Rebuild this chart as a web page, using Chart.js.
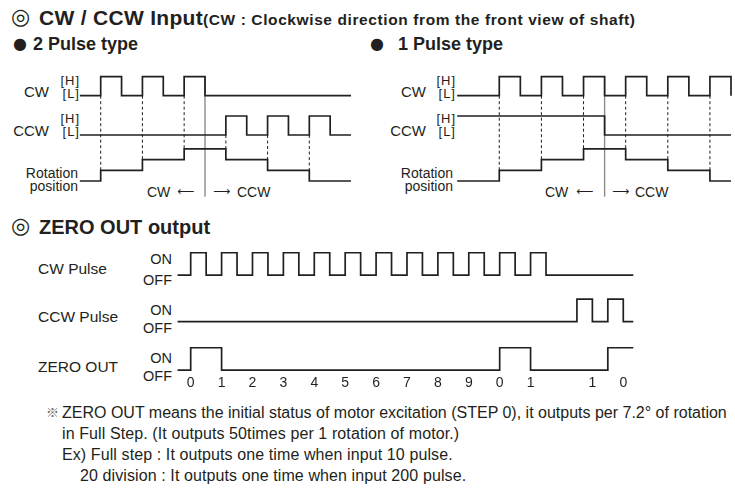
<!DOCTYPE html>
<html>
<head>
<meta charset="utf-8">
<script src="https://cdn.jsdelivr.net/npm/chart.js@4.4.0/dist/chart.umd.min.js"></script>
<style>
  html, body { margin: 0; padding: 0; background: #fff; }
  #page { position: relative; width: 735px; height: 496px; overflow: hidden;
          font-family: "Liberation Sans", Arial, sans-serif; color: #231f20; }
  .t { position: absolute; white-space: nowrap; line-height: 1; }
  .r { text-align: right; }
  .b { font-weight: bold; }
  .sym { font-family: "DejaVu Sans", sans-serif; }
  canvas { position: absolute; }
</style>
</head>
<body>
<div id="page">
  <!-- headings -->
  <div class="t sym" style="left:11px;top:6px;font-size:22px;">◎</div>
  <div class="t b" style="left:39px;top:7px;font-size:21px;letter-spacing:0.3px;">CW / CCW Input<span style="font-size:15.5px;letter-spacing:0.6px;">(CW : Clockwise direction from the front view of shaft)</span></div>
  <div class="t sym" style="left:13px;top:36px;font-size:16px;">●</div>
  <div class="t b" style="left:33px;top:35px;font-size:18px;">2 Pulse type</div>
  <div class="t sym" style="left:370px;top:36px;font-size:16px;">●</div>
  <div class="t b" style="left:398px;top:35px;font-size:18px;">1 Pulse type</div>

  <!-- 2 pulse labels -->
  <div class="t r" style="right:686px;top:84px;font-size:15px;">CW</div>
  <div class="t r" style="right:655px;top:74px;font-size:13px;letter-spacing:1px;">[H]</div>
  <div class="t r" style="right:655px;top:87px;font-size:13px;letter-spacing:1px;">[L]</div>
  <div class="t r" style="right:686px;top:123px;font-size:15px;">CCW</div>
  <div class="t r" style="right:655px;top:112px;font-size:13px;letter-spacing:1px;">[H]</div>
  <div class="t r" style="right:655px;top:125px;font-size:13px;letter-spacing:1px;">[L]</div>
  <div class="t r" style="right:657px;top:166px;font-size:14px;">Rotation</div>
  <div class="t r" style="right:657px;top:179px;font-size:14px;">position</div>
  <div class="t" style="left:147px;top:185px;font-size:14px;">CW</div>
  <div class="t sym" style="left:177px;top:185px;font-size:12px;">⟵</div>
  <div class="t sym" style="left:213px;top:185px;font-size:12px;">⟶</div>
  <div class="t" style="left:237px;top:185px;font-size:14px;">CCW</div>

  <!-- 1 pulse labels -->
  <div class="t r" style="right:309px;top:84px;font-size:15px;">CW</div>
  <div class="t r" style="right:279px;top:74px;font-size:13px;letter-spacing:1px;">[H]</div>
  <div class="t r" style="right:279px;top:87px;font-size:13px;letter-spacing:1px;">[L]</div>
  <div class="t r" style="right:309px;top:123px;font-size:15px;">CCW</div>
  <div class="t r" style="right:279px;top:112px;font-size:13px;letter-spacing:1px;">[H]</div>
  <div class="t r" style="right:279px;top:125px;font-size:13px;letter-spacing:1px;">[L]</div>
  <div class="t r" style="right:282px;top:166px;font-size:14px;">Rotation</div>
  <div class="t r" style="right:282px;top:179px;font-size:14px;">position</div>
  <div class="t" style="left:545px;top:185px;font-size:14px;">CW</div>
  <div class="t sym" style="left:576px;top:185px;font-size:12px;">⟵</div>
  <div class="t sym" style="left:612px;top:185px;font-size:12px;">⟶</div>
  <div class="t" style="left:635px;top:185px;font-size:14px;">CCW</div>

  <!-- ZERO OUT -->
  <div class="t sym" style="left:11px;top:215px;font-size:22px;">◎</div>
  <div class="t b" style="left:39px;top:217px;font-size:20px;">ZERO OUT output</div>
  <div class="t" style="left:38px;top:261px;font-size:15.5px;">CW Pulse</div>
  <div class="t" style="left:38px;top:309px;font-size:15.5px;">CCW Pulse</div>
  <div class="t" style="left:38px;top:359px;font-size:15.5px;">ZERO OUT</div>
  <div class="t r" style="right:563px;top:252px;font-size:14.5px;">ON</div>
  <div class="t r" style="right:563px;top:273px;font-size:14.5px;">OFF</div>
  <div class="t r" style="right:563px;top:303px;font-size:14.5px;">ON</div>
  <div class="t r" style="right:563px;top:321px;font-size:14.5px;">OFF</div>
  <div class="t r" style="right:563px;top:351px;font-size:14.5px;">ON</div>
  <div class="t r" style="right:563px;top:369px;font-size:14.5px;">OFF</div>

  <!-- notes -->
  <div class="t" style="left:46px;top:405px;font-size:13px;font-family:'Noto Sans CJK JP',sans-serif;color:#666;">※</div>
  <div class="t" style="left:62px;top:405px;font-size:16px;">ZERO OUT means the initial status of motor excitation (STEP 0), it outputs per 7.2° of rotation</div>
  <div class="t" style="left:62px;top:426px;font-size:16px;letter-spacing:0.1px;">in Full Step. (It outputs 50times per 1 rotation of motor.)</div>
  <div class="t" style="left:62px;top:447px;font-size:16px;letter-spacing:0.1px;">Ex) Full step : It outputs one time when input 10 pulse.</div>
  <div class="t" style="left:80px;top:468px;font-size:16px;letter-spacing:0.1px;">20 division : It outputs one time when input 200 pulse.</div>

  <canvas id="twoPulse" width="300" height="145" style="left:60px;top:60px;"></canvas>
  <canvas id="onePulse" width="295" height="145" style="left:440px;top:60px;"></canvas>
  <canvas id="zeroOut" width="500" height="157" style="left:150px;top:240px;"></canvas>
</div>

<script>
// levels per half-pulse slot; the last entry is the level at the end of the trace

// 2 pulse type, slots start at x = -1
const twoPulseStart = -1;
const twoPulseCW  = [0, 1, 0, 1, 0, 1, 0, 0, 0, 0, 0, 0, 0, 0];
const twoPulseCCW = [0, 0, 0, 0, 0, 0, 0, 1, 0, 1, 0, 1, 0, 0];
const twoPulseRot = [0, 1, 1, 2, 2, 3, 3, 2, 2, 1, 1, 0, 0, 0];

// 1 pulse type, slots start at x = -2 (CCW line is the direction signal)
const onePulseStart = -2;
const onePulseCW  = [0, 0, 1, 0, 1, 0, 1, 0, 1, 0, 1, 0, 1, 0];
const onePulseCCW = [1, 1, 1, 1, 1, 1, 1, 0, 0, 0, 0, 0, 0, 0];
const onePulseRot = [0, 0, 1, 1, 2, 2, 3, 3, 2, 2, 1, 1, 0, 0];

// where the direction changes (CW <- | -> CCW)
const directionChange = 5;

// ZERO OUT output, slots start at x = -1
const zeroStart = -1;
const zeroCW  = [0, 1,0,1,0,1,0,1,0,1,0,1,0,1,0,1,0,1,0,1,0,1,0,1,0, 0,0,0,0,0];
const zeroCCW = [0, 0,0,0,0,0,0,0,0,0,0,0,0,0,0,0,0,0,0,0,0,0,0,0,0, 0,1,0,1,0];
const zeroOut = [0, 1,1,0,0,0,0,0,0,0,0,0,0,0,0,0,0,0,0,0,0,1,1,0,0, 0,0,0,1,1];

// step counter under the ZERO OUT trace
const stepTicks  = [0, 2, 4, 6, 8, 10, 12, 14, 16, 18, 20, 22, 26, 28];
const stepLabels = ["0", "1", "2", "3", "4", "5", "6", "7", "8", "9", "0", "1", "1", "0"];

const ink = "#231f20";
const fontFamily = "'Liberation Sans', Arial, sans-serif";

// row placement (y units: one pulse height = 1)
const rowLayout = { cw: 5.753, ccw: 3.684, rot: 1.263, rotStep: 0.563, dividerLow: 0.437 };
const zeroLayout = { cw: 4.231, ccw: 2.167, zero: 0, lead: -0.85, end: 28.65 };

function stepData(levels, start, base, amp, lead, end) {
  const pts = levels.map((v, i) => ({ x: start + i, y: base + v * amp }));
  if (lead !== undefined) pts[0].x = lead;
  if (end !== undefined) pts.push({ x: end, y: pts[pts.length - 1].y });
  return pts;
}

function trace(data) {
  return { data, borderColor: ink, borderWidth: 1.7, pointRadius: 0, stepped: true, fill: false, clip: false };
}

function baseOptions(xMin, xMax, yMax) {
  return {
    responsive: false,
    animation: false,
    events: [],
    layout: { padding: 0 },
    plugins: { legend: { display: false }, tooltip: { enabled: false } },
    scales: {
      x: { type: "linear", min: xMin, max: xMax, display: false },
      y: { type: "linear", min: 0, max: yMax, display: false }
    }
  };
}

function timingChart(id, start, cw, ccw, rot, xMin, xMax) {
  const L = rowLayout;
  const datasets = [
    trace(stepData(cw, start, L.cw, 1)),
    trace(stepData(ccw, start, L.ccw, 1)),
    trace(stepData(rot, start, L.rot, L.rotStep))
  ];

  // dashed guide from the pulse edge down to the rotation step
  for (let i = 1; i < rot.length; i++) {
    if (rot[i] === rot[i - 1]) continue;
    const x = start + i;
    const fromCW = cw[i] === 1 && cw[i - 1] === 0;
    const top = fromCW ? L.cw : L.ccw;
    const bottom = L.rot + Math.max(rot[i], rot[i - 1]) * L.rotStep;
    datasets.push({
      data: [{ x, y: top }, { x, y: bottom }],
      borderColor: ink, borderWidth: 1, borderDash: [3, 2.5],
      pointRadius: 0, fill: false, clip: false
    });
  }

  datasets.push({
    data: [{ x: directionChange, y: L.dividerLow }, { x: directionChange, y: L.cw + 1 }],
    borderColor: "#8c8c8c", borderWidth: 1.4, pointRadius: 0, fill: false, clip: false
  });

  return new Chart(document.getElementById(id), {
    type: "line",
    data: { datasets },
    options: baseOptions(xMin, xMax, 145 / 19)
  });
}

timingChart("twoPulse", twoPulseStart, twoPulseCW, twoPulseCCW, twoPulseRot, -1.951, 12.43);
timingChart("onePulse", onePulseStart, onePulseCW, onePulseCCW, onePulseRot, -2.814, 11.19);

// ZERO OUT chart with the step numbers on its x axis
const Z = zeroLayout;
const zeroOpts = baseOptions(-2.634, 29.73, 5.8);
zeroOpts.scales.x = {
  type: "linear", min: -2.634, max: 29.73, display: true,
  grid: { display: false, drawTicks: false },
  border: { display: false },
  afterBuildTicks: axis => { axis.ticks = stepTicks.map(v => ({ value: v })); },
  ticks: {
    autoSkip: false, maxRotation: 0, padding: 5, color: ink,
    font: { size: 14, family: fontFamily },
    callback: (v, i) => stepLabels[i]
  }
};

new Chart(document.getElementById("zeroOut"), {
  type: "line",
  data: {
    datasets: [
      trace(stepData(zeroCW, zeroStart, Z.cw, 1, Z.lead, Z.end)),
      trace(stepData(zeroCCW, zeroStart, Z.ccw, 1, Z.lead, Z.end)),
      trace(stepData(zeroOut, zeroStart, Z.zero, 1, Z.lead, Z.end))
    ]
  },
  options: zeroOpts
});
</script>
</body>
</html>
